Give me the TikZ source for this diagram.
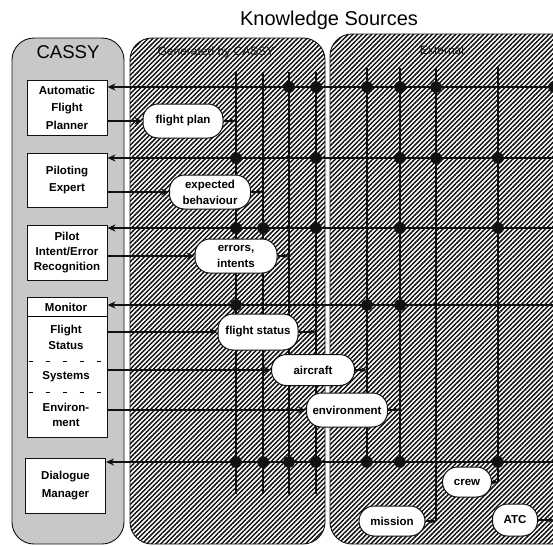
\documentclass[tikz,border=0pt]{standalone}
\usepackage{fontspec}
\setmainfont{Liberation Sans}
\usepackage{xcolor}
\usetikzlibrary{patterns.meta,arrows.meta,backgrounds}
\definecolor{stippleGray}{HTML}{C8C8C8}
\definecolor{inkBlack}{HTML}{111111}

\tikzset{
  panel/.style={rounded corners=22pt, draw=inkBlack, line width=0.9pt},
  hatched/.style={panel, pattern={Lines[angle=45,distance=3.3pt,line width=1.5pt]}, pattern color=inkBlack},
  module/.style={draw=inkBlack, fill=white, line width=1pt, minimum width=80pt, inner sep=1pt, align=center, font=\fontsize{11.5}{16.5}\selectfont\bfseries},
  modtext/.style={inner sep=1pt, align=center, font=\fontsize{11.5}{16}\selectfont\bfseries},
  source/.style={draw=inkBlack, fill=white, line width=1pt, rounded corners=15pt, minimum height=34pt, inner sep=1pt, align=center, font=\fontsize{11.5}{16}\selectfont\bfseries},
  tag/.style={font=\fontsize{12}{14}\selectfont, text=inkBlack},
  bus/.style={draw=inkBlack, line width=2.5pt, -{Stealth[length=8pt,width=7pt]}},
  feed/.style={draw=inkBlack, line width=1.2pt, -{Stealth[length=6pt,width=5pt]}},
  track/.style={draw=inkBlack, line width=1.3pt},
}

\begin{document}
\begin{tikzpicture}[x=1pt, y=-1pt]
\clip (0,0) rectangle (553,546);

\node[font=\fontsize{20}{22}\selectfont] (title) at (329,20) {Knowledge Sources};
\node[font=\fontsize{18.5}{20}\selectfont] (cassy) at (68,52) {CASSY};
\node[tag] (gen) at (216,52) {Generated by CASSY};
\node[tag] (ext) at (442,50) {External};

\node[module, minimum height=55pt, font=\fontsize{11.5}{17.5}\selectfont\bfseries] (afp) at (67,107.5) {Automatic\\Flight\\Planner};
\node[module, minimum height=54pt] (pe) at (67,180) {Piloting\\Expert};
\node[module, minimum height=55pt, font=\fontsize{11.5}{15}\selectfont\bfseries] (pier) at (67,252.5) {Pilot\\Intent/Error\\Recognition};
\node[module, minimum height=140pt] (mon) at (67,367) {};
\node[modtext] (monl) at (66,307) {Monitor};
\node[modtext] (fsl) at (66,337) {Flight\\Status};
\node[modtext] (sysl) at (66,377) {Systems};
\node[modtext, font=\fontsize{11.5}{15}\selectfont\bfseries] (envl) at (66,415) {Environ-\\ment};
\draw[line width=1pt] ([yshift=-20pt]mon.north west) -- ([yshift=-20pt]mon.north east);
\draw[line width=1pt, dash pattern=on 4pt off 13pt, dash phase=-2pt] ([yshift=-65pt]mon.north west) -- ([yshift=-65pt]mon.north east);
\draw[line width=1pt, dash pattern=on 4pt off 13pt, dash phase=-2pt] ([yshift=-96pt]mon.north west) -- ([yshift=-96pt]mon.north east);
\node[module, minimum height=55pt, font=\fontsize{11.5}{18}\selectfont\bfseries] (dm) at (65.5,485.5) {Dialogue\\Manager};

\node[source, minimum width=80pt] (fp) at (183,121) {flight plan};
\node[source, minimum width=81pt] (eb) at (210,192) {expected\\behaviour};
\node[source, minimum width=82pt] (ei) at (236,256) {errors,\\intents};
\node[source, minimum width=80pt, minimum height=36pt] (fs) at (258,332) {flight status};
\node[source, minimum width=83pt, minimum height=31pt] (ac) at (313,370) {aircraft};
\node[source, minimum width=81pt] (en) at (347,410) {environment};
\node[source, minimum width=49pt, minimum height=30pt] (cr) at (467,482) {crew};
\node[source, minimum width=66pt, minimum height=30pt] (mi) at (392,521) {mission};
\node[source, minimum width=45pt, minimum height=32pt] (atc) at (515,520) {ATC};

\coordinate (vfp) at (236,72);
\coordinate (veb) at (263,72);
\coordinate (vei) at (289,72);
\coordinate (vfs) at (316,72);
\coordinate (vac) at (367,68);
\coordinate (ven) at (400,68);
\coordinate (vmi) at (436,68);
\coordinate (vcr) at (498,67);
\coordinate (vatc) at (554,67);
\coordinate (floor) at (0,494);
\coordinate (b1) at (610,87);
\coordinate (b2) at (610,158);
\coordinate (b3) at (610,228);
\coordinate (b4) at (610,305);
\coordinate (b5) at (610,462);

\begin{pgfonlayer}{background}
\draw[panel, fill=stippleGray] (12,38) rectangle (124,544);
\draw[hatched] (130,38) rectangle (325,544);
\draw[hatched] (330,34) rectangle (620,544);
\foreach \v in {vfp,veb,vei,vfs}
  \draw[track] (\v) -- (\v |- floor);
\draw[track] (vac) -- (vac |- b5);
\draw[track] (ven) -- (ven |- b5);
\draw[track] (vmi) -- (vmi |- mi);
\draw[track] (vcr) -- (vcr |- cr);
\draw[track] (vatc) -- (vatc |- atc);
\draw[bus] (b1) -- (b1 -| afp.east);
\draw[bus] (b2) -- (b2 -| pe.east);
\draw[bus] (b3) -- (b3 -| pier.east);
\draw[bus] (b4) -- (b4 -| mon.east);
\draw[bus] (b5) -- (b5 -| dm.east);
\foreach \v/\b in {vei/b1,vfs/b1,vac/b1,ven/b1,vmi/b1,vatc/b1,
                   vfp/b2,vfs/b2,ven/b2,vmi/b2,vcr/b2,
                   vfp/b3,veb/b3,vfs/b3,ven/b3,vcr/b3,
                   vfp/b4,vac/b4,ven/b4,
                   vfp/b5,veb/b5,vei/b5,vfs/b5,vac/b5,ven/b5,vcr/b5}
  \fill[inkBlack] (\v |- \b) circle[radius=5.8pt];
\end{pgfonlayer}

\draw[bus] (fp.west -| afp.east) -- (fp.west);
\draw[bus] (eb.west -| pe.east) -- (eb.west);
\draw[bus] (ei.west -| pier.east) -- (ei.west);
\draw[bus] (fs.west -| mon.east) -- (fs.west);
\draw[bus] (ac.west -| mon.east) -- (ac.west);
\draw[bus] (en.west -| mon.east) -- (en.west);

\draw[feed] (fp.east) -- (fp.east -| vfp);
\draw[feed] (eb.east) -- (eb.east -| veb);
\draw[feed] (ei.east) -- (ei.east -| vei);
\draw[feed] (fs.east) -- (fs.east -| vfs);
\draw[feed] (ac.east) -- (ac.east -| vac);
\draw[feed] (en.east) -- (en.east -| ven);
\draw[feed] (mi.east) -- (mi.east -| vmi);
\draw[feed] (cr.east) -- (cr.east -| vcr);
\draw[feed] (atc.east) -- (atc.east -| vatc);
\end{tikzpicture}
\end{document}
